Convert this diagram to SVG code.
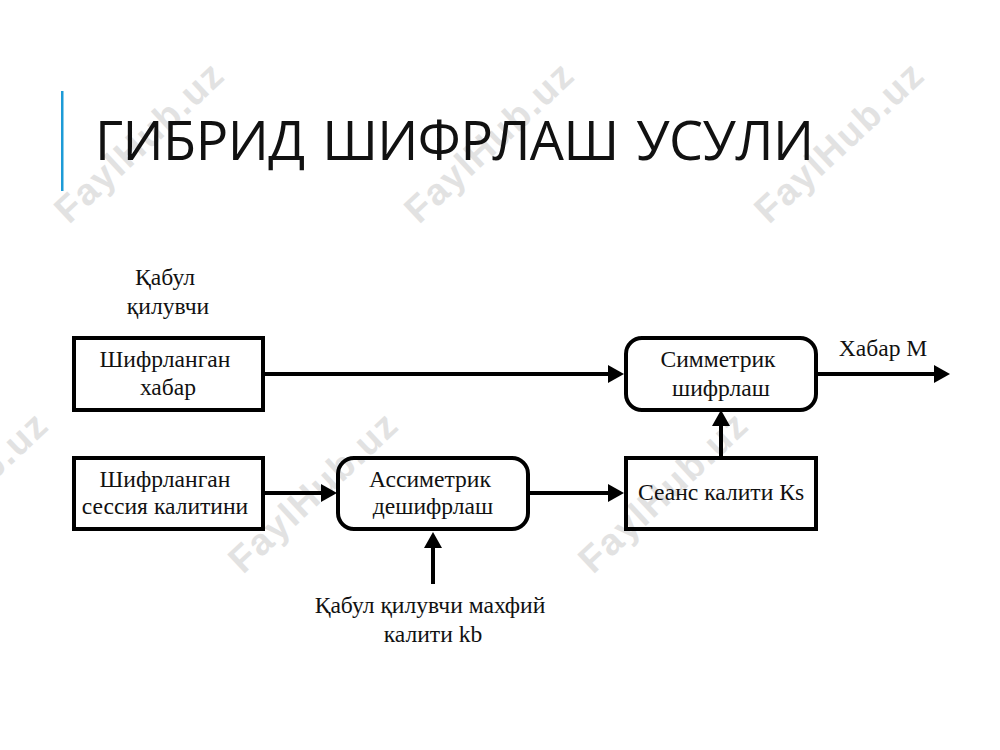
<svg xmlns="http://www.w3.org/2000/svg" width="1000" height="750" viewBox="0 0 1000 750">
<style>
.wm{font-family:"Liberation Sans",Arial,sans-serif;font-weight:700;font-size:37.5px;fill:#e2e2e2;letter-spacing:1.6px}
.t{font-family:"Liberation Serif","Times New Roman",serif;font-size:23.6px;fill:#111;text-anchor:middle}
.box{fill:none;stroke:#000;stroke-width:4}
.c{fill:none;stroke:#000;stroke-width:4}
</style>
<defs>
<marker id="a" markerUnits="userSpaceOnUse" markerWidth="16" markerHeight="18" refX="10" refY="9" orient="auto"><path d="M0 0L16 9L0 18Z" fill="#000"/></marker>
</defs>
<rect width="1000" height="750" fill="#fff"/>
<g id="watermarks">
<text class="wm" transform="translate(69 225) rotate(-43)">FaylHub.uz</text>
<text class="wm" transform="translate(419 225) rotate(-43)">FaylHub.uz</text>
<text class="wm" transform="translate(769 225) rotate(-43)">FaylHub.uz</text>
<text class="wm" transform="translate(-107 575) rotate(-43)">FaylHub.uz</text>
<text class="wm" transform="translate(243 575) rotate(-43)">FaylHub.uz</text>
<text class="wm" transform="translate(593 575) rotate(-43)">FaylHub.uz</text>
</g>
<g id="title">
<rect x="61" y="91" width="2.5" height="100" fill="#1d9bd7"/>
<text x="95" y="160" font-family="'Open Sans','Noto Sans',sans-serif" font-size="54" letter-spacing="-0.5" word-spacing="4" fill="#111">ГИБРИД ШИФРЛАШ УСУЛИ</text>
</g>
<g id="connectors">
<path class="c" d="M264 374H618" marker-end="url(#a)"/>
<path class="c" d="M264 493H331" marker-end="url(#a)"/>
<path class="c" d="M528 493H618" marker-end="url(#a)"/>
<path class="c" d="M721 457V416" marker-end="url(#a)"/>
<path class="c" d="M817 374H944" marker-end="url(#a)"/>
<path class="c" d="M433 584V538" marker-end="url(#a)"/>
</g>
<g id="receiver-label">
<text class="t" x="165" y="285">Қабул</text>
<text class="t" x="168" y="314">қилувчи</text>
</g>
<g id="node-encrypted-message">
<rect class="box" x="74" y="338" width="189" height="72"/>
<text class="t" x="165" y="367">Шифрланган</text>
<text class="t" x="168" y="395">хабар</text>
</g>
<g id="node-symmetric">
<rect class="box" x="626" y="338" width="190" height="72" rx="16"/>
<text class="t" x="718" y="367">Симметрик</text>
<text class="t" x="721" y="396">шифрлаш</text>
</g>
<g id="node-encrypted-key">
<rect class="box" x="74" y="458" width="189" height="71"/>
<text class="t" x="165" y="487">Шифрланган</text>
<text class="t" x="165" y="514">сессия калитини</text>
</g>
<g id="node-asymmetric">
<rect class="box" x="338" y="458" width="190" height="71" rx="16"/>
<text class="t" x="430" y="487">Ассиметрик</text>
<text class="t" x="433" y="514">дешифрлаш</text>
</g>
<g id="node-session-key">
<rect class="box" x="626" y="458" width="190" height="71"/>
<text class="t" x="721" y="500">Сеанс калити Кs</text>
</g>
<g id="message-label"><text class="t" x="883" y="356">Хабар М</text></g>
<g id="private-key-label">
<text class="t" x="430" y="613">Қабул қилувчи махфий</text>
<text class="t" x="433" y="642">калити kb</text>
</g>
</svg>
